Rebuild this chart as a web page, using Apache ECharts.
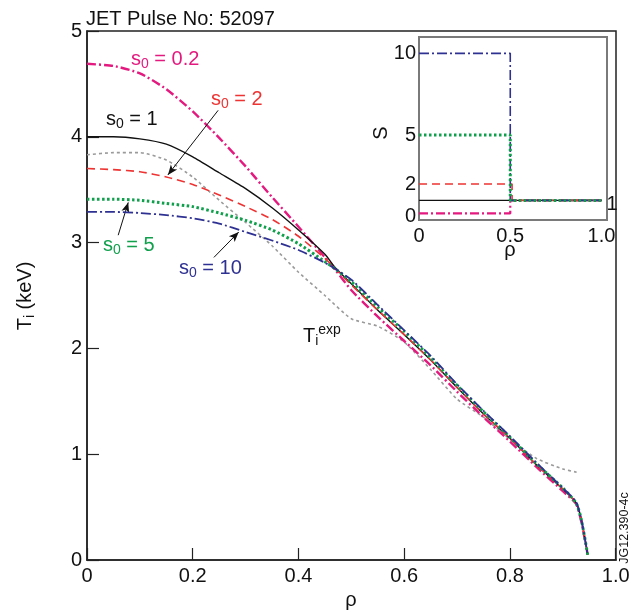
<!DOCTYPE html>
<html>
<head>
<meta charset="utf-8">
<script src="https://cdn.jsdelivr.net/npm/echarts@6/dist/echarts.min.js"></script>
<style>html,body{margin:0;padding:0;background:#fff}#c{width:636px;height:613px}</style>
</head>
<body>
<div id="c"></div>
<script>
// ---- Data ----
const rho = [0, 0.05, 0.1, 0.15, 0.2, 0.25, 0.3, 0.35, 0.4, 0.45, 0.47, 0.5, 0.55, 0.6, 0.65, 0.7, 0.75, 0.8, 0.85, 0.9, 0.925, 0.935, 0.947];
const ti_s02 = [4.69, 4.67, 4.60, 4.45, 4.24, 3.99, 3.72, 3.43, 3.15, 2.86, 2.74, 2.55, 2.30, 2.07, 1.84, 1.59, 1.35, 1.12, 0.88, 0.65, 0.53, 0.36, 0.05];
const ti_s1  = [4.00, 4.00, 3.98, 3.93, 3.81, 3.66, 3.51, 3.33, 3.12, 2.89, 2.76, 2.61, 2.36, 2.13, 1.89, 1.63, 1.38, 1.15, 0.90, 0.67, 0.54, 0.38, 0.05];
const ti_s2  = [3.70, 3.69, 3.67, 3.62, 3.55, 3.45, 3.34, 3.22, 3.06, 2.85, 2.75, 2.60, 2.36, 2.13, 1.89, 1.63, 1.38, 1.15, 0.90, 0.67, 0.54, 0.38, 0.05];
const ti_s5  = [3.41, 3.41, 3.40, 3.37, 3.34, 3.28, 3.21, 3.12, 2.99, 2.82, 2.75, 2.63, 2.39, 2.16, 1.91, 1.65, 1.40, 1.16, 0.91, 0.68, 0.54, 0.38, 0.05];
const ti_s10 = [3.29, 3.29, 3.28, 3.26, 3.23, 3.18, 3.10, 3.02, 2.93, 2.81, 2.75, 2.65, 2.41, 2.17, 1.93, 1.66, 1.41, 1.17, 0.92, 0.68, 0.55, 0.38, 0.05];
const rhoExp = [0, 0.05, 0.1, 0.15, 0.2, 0.25, 0.3, 0.35, 0.4, 0.45, 0.5, 0.55, 0.6, 0.65, 0.7, 0.75, 0.8, 0.85, 0.9, 0.926];
const ti_exp = [3.83, 3.85, 3.85, 3.78, 3.62, 3.40, 3.19, 2.97, 2.72, 2.50, 2.28, 2.21, 2.06, 1.80, 1.52, 1.35, 1.14, 0.96, 0.86, 0.83];

// inset: source profile S(rho), step functions
const rhoStep = [0, 0.5, 0.5, 1.0];
const rhoStepRed = [0, 0.51, 0.51, 1.0];
const S_s02 = [0.2, 0.2, 1, 1];
const S_s1  = [1, 1, 1, 1];
const S_s2  = [2, 2, 1, 1];
const S_s5  = [5, 5, 1, 1];
const S_s10 = [10, 10, 1, 1];

const mainXTicks = [0, 0.2, 0.4, 0.6, 0.8, 1.0];
const mainYTicks = [0, 1, 2, 3, 4, 5];
const insetXTicks = [0, 0.5, 1.0];
const insetYTicks = [0, 2, 5, 10];

// arrows (annotation, in data coords): [from, to]
const arrowS2  = [[0.248, 4.25], [0.153, 3.64]];
const arrowS5  = [[0.059, 3.07], [0.078, 3.38]];
const arrowS10 = [[0.240, 2.86], [0.287, 3.10]];

// ---- Styles ----
const FONT = "'Liberation Sans', Arial, Helvetica, sans-serif";
const C = {mag:'#e4197f', red:'#ee3333', blk:'#111111', grn:'#10a04c', blu:'#2e3192', gry:'#9a9a9a'};
const X_MAX = 1.0005;

function zip(xs, ys){ return xs.map((x,i)=>[x, ys[i]]); }
function fmt(v){ return v===0 ? '0' : (Math.abs(v-1)<1e-6 ? '1.0' : v.toFixed(1)); }
// the extra label at the axis end is empty, so the "1.0" label keeps centred alignment
function fmtMain(v){ return v > 1.0001 ? '' : fmt(v); }

const chart = echarts.init(document.getElementById('c'), null, {renderer:'canvas'});

function mainLine(name, data, color, type, width, z){
  return {name, type:'line', xAxisIndex:0, yAxisIndex:0, data, showSymbol:false, symbol:'none',
    smooth:0.2, z, silent:true,
    lineStyle:{color, type, width, cap:'butt'}};
}
function insetLine(name, data, color, type, width, z){
  return {name, type:'line', xAxisIndex:1, yAxisIndex:1, data, showSymbol:false, symbol:'none',
    z, silent:true, lineStyle:{color, type, width}};
}
function arrow(pair){
  return [{coord:pair[0], symbol:'none'}, {coord:pair[1], symbol:'arrow', symbolSize:[6,10]}];
}

const labTxt = (x, y, text, color, size) => ({
  type:'text', x, y, silent:true, z:100,
  style:{text, fill:color, font:`${size}px ${FONT}`, verticalAlign:'middle', align:'left',
    rich:{
      a:{fontSize:size, fontFamily:FONT, fill:color, lineHeight:size+4},
      s:{fontSize:Math.round(size*0.7), fontFamily:FONT, fill:color, lineHeight:size+4, padding:[Math.round(size*0.55),0,0,0]}
    }}
});

const option = {
  animation:false,
  backgroundColor:'#fff',
  grid:[
    {left:87, top:31, width:529, height:529, show:true, borderColor:'#222', borderWidth:1.5, backgroundColor:'transparent', z:0, containLabel:false, outerBoundsMode:'none'},
    {left:419, top:37, width:188, height:183, show:true, borderColor:'#7a7a7a', borderWidth:2, backgroundColor:'#fff', z:5, containLabel:false, outerBoundsMode:'none'}
  ],
  xAxis:[
    {type:'value', gridIndex:0, min:0, max:X_MAX,
      axisLine:{show:true, lineStyle:{color:'#222', width:1.5}},
      axisTick:{show:true, inside:true, length:12, customValues:mainXTicks, lineStyle:{color:'#222', width:1.2}},
      axisLabel:{color:'#111', fontSize:20, fontFamily:FONT, margin:6, formatter:fmtMain,
        customValues:mainXTicks.concat([X_MAX]), hideOverlap:false},
      splitLine:{show:false}},
    {type:'value', gridIndex:1, min:0, max:1.03,
      axisLine:{show:false}, axisTick:{show:false},
      axisLabel:{color:'#111', fontSize:20, fontFamily:FONT, margin:6, formatter:fmt, customValues:insetXTicks},
      splitLine:{show:false}}
  ],
  yAxis:[
    {type:'value', gridIndex:0, min:0, max:5, interval:1,
      axisLine:{show:true, lineStyle:{color:'#222', width:1.5}},
      axisTick:{show:true, inside:true, length:12, lineStyle:{color:'#222', width:1.2}},
      axisLabel:{color:'#111', fontSize:20, fontFamily:FONT, margin:5, customValues:mainYTicks},
      splitLine:{show:false}},
    {type:'value', gridIndex:1, min:-0.2, max:11,
      axisLine:{show:false}, axisTick:{show:false},
      axisLabel:{color:'#111', fontSize:20, fontFamily:FONT, margin:3, customValues:insetYTicks},
      splitLine:{show:false}}
  ],
  series:[
    mainLine('Ti exp', zip(rhoExp, ti_exp), C.gry, [3,3], 1.6, 2),
    mainLine('s0=0.2', zip(rho, ti_s02), C.mag, [9,3,2,3], 2.4, 3),
    mainLine('s0=1', zip(rho, ti_s1), C.blk, 'solid', 1.4, 4),
    mainLine('s0=2', zip(rho, ti_s2), C.red, [8,5], 1.6, 5),
    mainLine('s0=5', zip(rho, ti_s5), C.grn, [2.5,2.5], 3, 6),
    mainLine('s0=10', zip(rho, ti_s10), C.blu, [10,3,2,3], 1.8, 7),
    {type:'line', xAxisIndex:0, yAxisIndex:0, data:[], silent:true, z:8,
      markLine:{silent:true, animation:false, symbol:['none','arrow'], label:{show:false},
        lineStyle:{color:'#111', width:1, type:'solid'},
        emphasis:{disabled:true},
        data:[arrow(arrowS2), arrow(arrowS5), arrow(arrowS10)]}},
    insetLine('S s0=1', zip([0,1.0], [S_s1[0], S_s1[3]]), C.blk, 'solid', 1.3, 10),
    insetLine('S s0=0.2', zip(rhoStep, S_s02), C.mag, [9,3,2,3], 2.2, 11),
    insetLine('S s0=2', zip(rhoStepRed, S_s2), C.red, [8,5], 1.6, 12),
    insetLine('S s0=10', zip(rhoStep, S_s10), C.blu, [10,3,2,3], 1.6, 13),
    insetLine('S s0=5', zip(rhoStep, S_s5), C.grn, [2.5,2.5], 3, 14)
  ],
  graphic:[
    {type:'text', x:86, y:19, silent:true, style:{text:'JET Pulse No: 52097', fill:'#111', font:`20px ${FONT}`, verticalAlign:'middle'}},
    labTxt(131, 59, '{a|s}{s|0}{a| = 0.2}', C.mag, 20),
    labTxt(211, 99, '{a|s}{s|0}{a| = 2}', C.red, 20),
    labTxt(106, 119, '{a|s}{s|0}{a| = 1}', C.blk, 20),
    labTxt(103, 245, '{a|s}{s|0}{a| = 5}', C.grn, 20),
    labTxt(179, 268, '{a|s}{s|0}{a| = 10}', C.blu, 20),
    {type:'text', x:303, y:336, silent:true, z:100, style:{text:'{a|T}{s|i}{p|exp}', verticalAlign:'middle', align:'left',
      rich:{a:{fontSize:20, fontFamily:FONT, fill:'#111', lineHeight:24},
            s:{fontSize:14, fontFamily:FONT, fill:'#111', lineHeight:24, padding:[11,0,0,0]},
            p:{fontSize:14, fontFamily:FONT, fill:'#111', lineHeight:24, padding:[0,0,11,0]}}}},
    {type:'text', x:25, y:296, rotation:Math.PI/2, silent:true, style:{text:'{a|T}{s|i}{a| (keV)}', align:'center', verticalAlign:'middle',
      rich:{a:{fontSize:20, fontFamily:FONT, fill:'#111', lineHeight:24},
            s:{fontSize:14, fontFamily:FONT, fill:'#111', lineHeight:24, padding:[11,0,0,0]}}}},
    {type:'text', x:351, y:600, silent:true, style:{text:'ρ', fill:'#111', font:`20px ${FONT}`, align:'center', verticalAlign:'middle'}},
    {type:'text', x:510, y:250, silent:true, z:100, style:{text:'ρ', fill:'#111', font:`20px ${FONT}`, align:'center', verticalAlign:'middle'}},
    {type:'text', x:381, y:133, rotation:Math.PI/2, silent:true, z:100, style:{text:'S', fill:'#111', font:`20px ${FONT}`, align:'center', verticalAlign:'middle'}},
    {type:'text', x:612, y:204, silent:true, z:100, style:{text:'1', fill:'#111', font:`20px ${FONT}`, align:'center', verticalAlign:'middle'}},
    {type:'text', x:625, y:528, rotation:Math.PI/2, silent:true, style:{text:'JG12.390-4c', fill:'#111', font:`12.5px ${FONT}`, align:'center', verticalAlign:'middle'}}
  ]
};
chart.setOption(option);
</script>
</body>
</html>
